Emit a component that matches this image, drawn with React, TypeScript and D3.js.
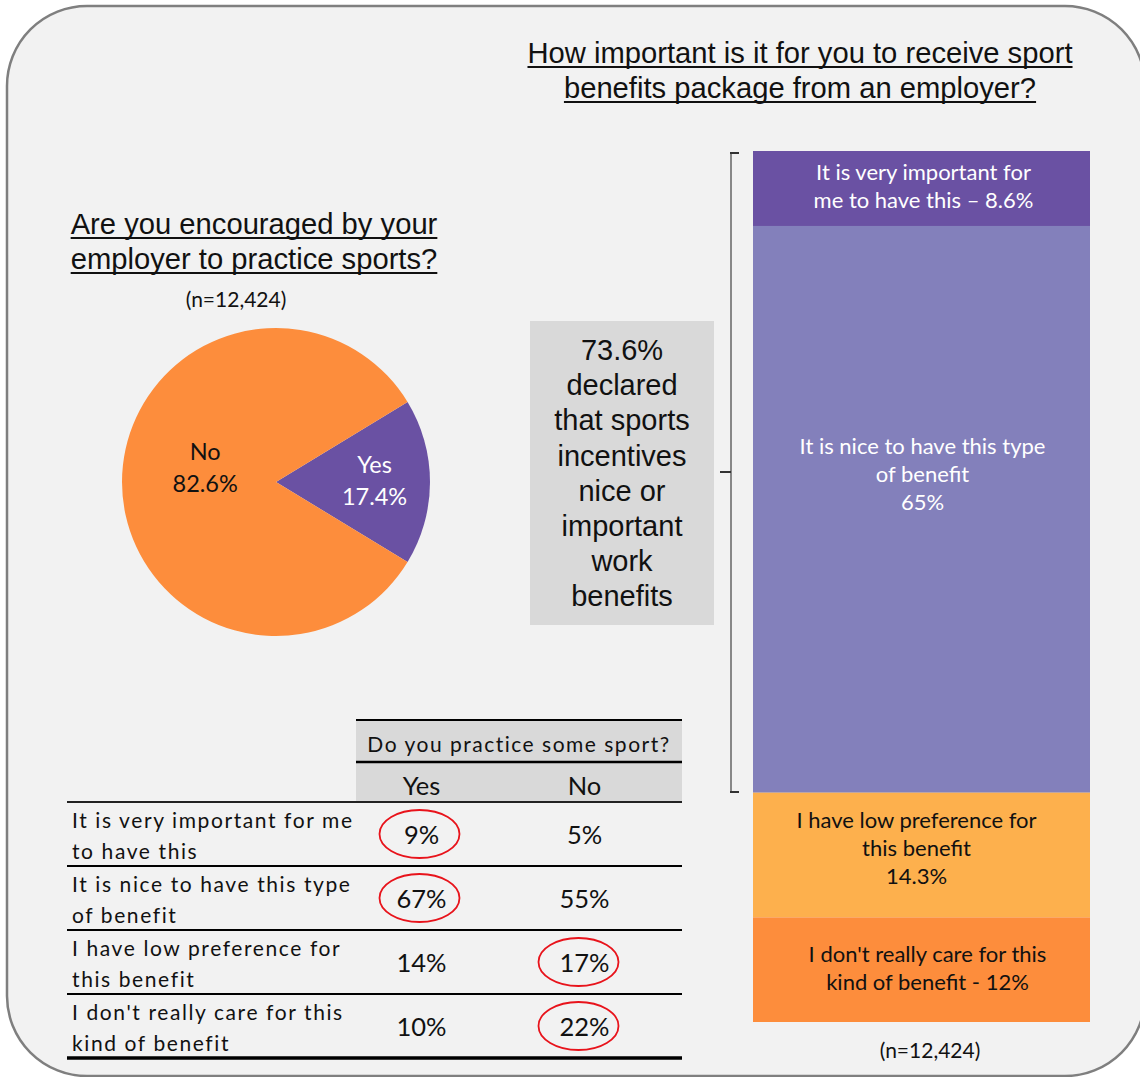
import React, { useLayoutEffect, useRef, useState } from "react";
import * as d3 from "d3";

// ---------- DATA ----------
const pieLabels = ["Yes", "No"];
const pieValues = [17.4, 82.6];

const barLabels = [
  ["It is very important for", "me to have this \u2013 8.6%"],
  ["It is nice to have this type", "of benefit", "65%"],
  ["I have low preference for", "this benefit", "14.3%"],
  ["I don't really care for this", "kind of benefit - 12%"],
];
const barValues = [8.6, 65, 14.3, 12];

const tableRowLabels = [
  ["It is very important for me", "to have this"],
  ["It is nice to have this type", "of benefit"],
  ["I have low preference for", "this benefit"],
  ["I don't really care for this", "kind of benefit"],
];
const tableColumns = ["Yes", "No"];
const tableYes = [9, 67, 14, 10];
const tableNo = [5, 55, 17, 22];
const circledYes = [true, true, false, false];
const circledNo = [false, false, true, true];

const boxLines = ["73.6%", "declared", "that sports", "incentives", "nice or", "important", "work", "benefits"];
const rightTitle = ["How important is it for you to receive sport", "benefits package from an employer?"];
const leftTitle = ["Are you encouraged by your", "employer to practice sports?"];

// ---------- STYLE ----------
const W = 1140;
const H = 1077;
const BG = "#f2f2f2";
const pieColors = ["#6a51a3", "#fd8d3c"];
const pieTextColors = ["#ffffff", "#111111"];
const barColors = ["#6a51a3", "#8380bb", "#fdb04d", "#fd8d3c"];
const barTextColors = ["#ffffff", "#ffffff", "#111111", "#111111"];
const ARIAL = "'Liberation Sans', Arial, sans-serif";
const CAL = "Lato, 'Open Sans', sans-serif";

function UText({ x, y, text, size }: { x: number; y: number; text: string; size: number }) {
  const ref = useRef<SVGTextElement>(null);
  const [w, setW] = useState(0);
  useLayoutEffect(() => {
    if (ref.current) setW(ref.current.getComputedTextLength());
  }, [text, size]);
  return (
    <g>
      <text ref={ref} x={x} y={y} fontFamily={ARIAL} fontSize={size} fill="#111" textAnchor="middle">{text}</text>
      {w > 0 && <line x1={x - w / 2} x2={x + w / 2} y1={y + 4} y2={y + 4} stroke="#111" strokeWidth={2} />}
    </g>
  );
}

export default function App() {
  // Pie
  const cx = 276, cy = 482, R = 154;
  const yesAngle = (pieValues[0] / 100) * 2 * Math.PI;
  const start = Math.PI / 2 - yesAngle / 2;
  const pie = d3.pie<number>().sort(null).startAngle(start).endAngle(start + 2 * Math.PI);
  const arcs = pie(pieValues);
  const arcGen = d3.arc<d3.PieArcDatum<number>>().innerRadius(0).outerRadius(R);
  const labelRadius = [0.64 * R, 0.46 * R];
  const labelDy = [-2, -15];

  // Stacked bar
  const total = d3.sum(barValues);
  const y = d3.scaleLinear().domain([0, total]).range([151, 1022]);
  const xBar = d3.scaleBand().domain(["all"]).range([753, 1090]).padding(0);
  let cum = 0;
  const segs = barValues.map((v, i) => {
    const s = { i, y0: y(cum), y1: y(cum + v) };
    cum += v;
    return s;
  });
  const barTextOffsetX = [2, 1, -5, 6];
  const barTextOffsetY = [-3, -36, -8, -2];

  // Table
  const rowY = d3.scaleBand().domain(d3.range(tableRowLabels.length).map(String)).range([802, 1058]);
  const colX = d3.scaleBand().domain(tableColumns).range([340, 666]);
  const ellipseShift = [-2, -6];

  return (
    <svg width={W} height={H} style={{ position: "absolute", left: 0, top: 0 }}>
      <rect x={0} y={0} width={W} height={H} fill="#ffffff" />
      <rect x={7} y={6} width={1138} height={1070} rx={80} ry={80} fill={BG} stroke="#7f7f7f" strokeWidth={2.5} />

      {/* Titles */}
      {rightTitle.map((t, i) => (
        <UText key={t} x={800} y={63 + i * 35} text={t} size={29.2} />
      ))}
      {leftTitle.map((t, i) => (
        <UText key={t} x={254} y={234 + i * 35} text={t} size={29.2} />
      ))}
      <text x={236} y={298} fontFamily={CAL} fontSize={21} textAnchor="middle" dominantBaseline="central" fill="#111">(n=12,424)</text>

      {/* Pie */}
      <g transform={`translate(${cx},${cy})`}>
        {arcs.map((a, i) => (
          <path key={i} d={arcGen(a) || ""} fill={pieColors[i]} />
        ))}
        {arcs.map((a, i) => {
          const mid = (a.startAngle + a.endAngle) / 2;
          const lx = Math.sin(mid) * labelRadius[i];
          const ly = -Math.cos(mid) * labelRadius[i] + labelDy[i];
          return (
            <g key={i} fontFamily={CAL} fontSize={23.5} fill={pieTextColors[i]} textAnchor="middle">
              <text x={lx} y={ly - 16} dominantBaseline="central">{pieLabels[i]}</text>
              <text x={lx} y={ly + 16} dominantBaseline="central">{pieValues[i].toFixed(1)}%</text>
            </g>
          );
        })}
      </g>

      {/* Gray box */}
      <rect x={530} y={321} width={184} height={304} fill="#d9d9d9" />
      <g fontFamily={ARIAL} fontSize={29} fill="#111" textAnchor="middle">
        {boxLines.map((t, i) => (
          <text key={i} x={622} y={350 + i * 35.2} dominantBaseline="central">{t}</text>
        ))}
      </g>

      {/* Bracket */}
      <line x1={731} x2={731} y1={153} y2={792} stroke="#888" strokeWidth={2} />
      <line x1={730} x2={739} y1={153} y2={153} stroke="#333" strokeWidth={2} />
      <line x1={730} x2={739} y1={792} y2={792} stroke="#333" strokeWidth={2} />
      <line x1={720} x2={731} y1={472} y2={472} stroke="#333" strokeWidth={2} />

      {/* Stacked bar */}
      {segs.map((s) => (
        <rect key={s.i} x={xBar("all")} y={s.y0} width={xBar.bandwidth()} height={s.y1 - s.y0} fill={barColors[s.i]} />
      ))}
      {segs.map((s) => {
        const lines = barLabels[s.i];
        const cxT = (xBar("all") as number) + xBar.bandwidth() / 2 + barTextOffsetX[s.i];
        const mid = (s.y0 + s.y1) / 2 + barTextOffsetY[s.i];
        const lh = 28;
        return (
          <g key={s.i} fontFamily={CAL} fontSize={22} fill={barTextColors[s.i]} textAnchor="middle">
            {lines.map((t, j) => (
              <text key={j} x={cxT} y={mid + (j - (lines.length - 1) / 2) * lh} dominantBaseline="central">{t}</text>
            ))}
          </g>
        );
      })}
      <text x={930} y={1049} fontFamily={CAL} fontSize={21} textAnchor="middle" fill="#111" dominantBaseline="central">(n=12,424)</text>

      {/* Table */}
      <rect x={356} y={720} width={326} height={82} fill="#d9d9d9" />
      <line x1={356} x2={682} y1={720} y2={720} stroke="#000" strokeWidth={2} />
      <line x1={356} x2={682} y1={762} y2={762} stroke="#000" strokeWidth={2.5} />
      <text x={519} y={743} fontFamily={CAL} fontSize={21} letterSpacing={1.5} textAnchor="middle" dominantBaseline="central" fill="#111">Do you practice some sport?</text>
      {tableColumns.map((c) => (
        <text key={c} x={(colX(c) as number) + colX.bandwidth() / 2} y={785} fontFamily={CAL} fontSize={25.5} textAnchor="middle" dominantBaseline="central" fill="#111">{c}</text>
      ))}
      <line x1={67} x2={682} y1={802} y2={802} stroke="#222" strokeWidth={2} />
      {tableRowLabels.map((lines, i) => {
        const y0 = rowY(String(i)) as number;
        const bh = rowY.bandwidth();
        const ymid = y0 + bh / 2;
        const last = i === tableRowLabels.length - 1;
        const vals = [tableYes[i], tableNo[i]];
        const circ = [circledYes[i], circledNo[i]];
        return (
          <g key={i}>
            {lines.map((t, j) => (
              <text key={j} x={72} y={ymid + (j - 0.5) * 31 + 1} fontFamily={CAL} fontSize={21} letterSpacing={1.6} dominantBaseline="central" fill="#111">{t}</text>
            ))}
            {tableColumns.map((c, k) => {
              const xc = (colX(c) as number) + colX.bandwidth() / 2;
              return (
                <g key={c}>
                  {circ[k] && <ellipse cx={xc + ellipseShift[k]} cy={ymid} rx={40} ry={24} fill="none" stroke="#e8131b" strokeWidth={1.8} />}
                  <text x={xc} y={ymid} fontFamily={CAL} fontSize={25.5} textAnchor="middle" dominantBaseline="central" fill="#111">{vals[k]}%</text>
                </g>
              );
            })}
            <line x1={67} x2={682} y1={y0 + bh} y2={y0 + bh} stroke="#000" strokeWidth={last ? 3.5 : 2} />
          </g>
        );
      })}
    </svg>
  );
}
